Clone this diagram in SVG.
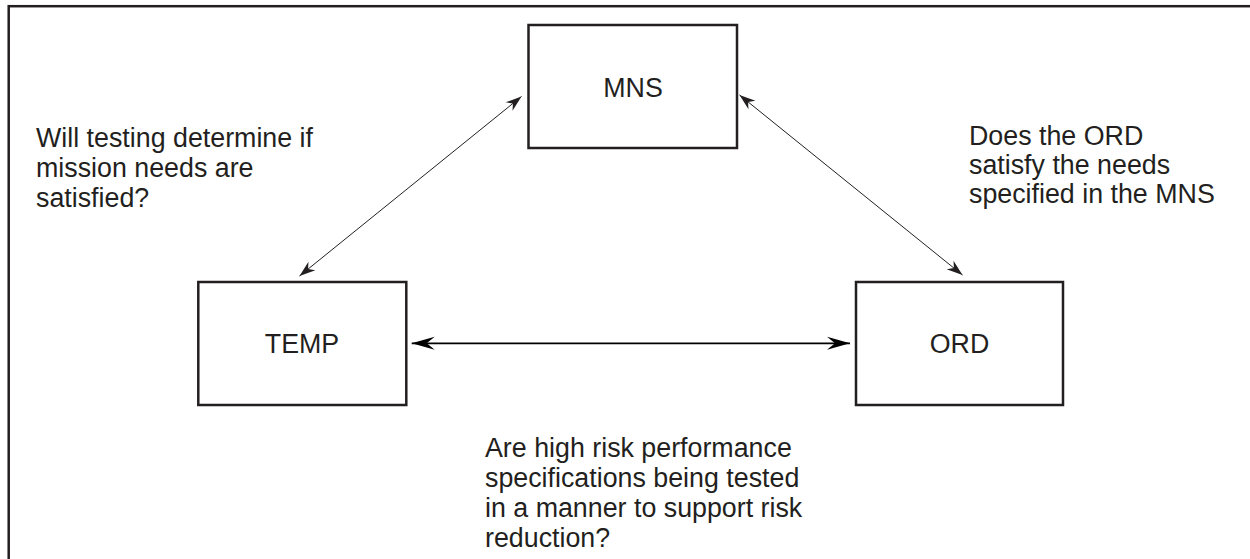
<svg xmlns="http://www.w3.org/2000/svg" width="1250" height="559" viewBox="0 0 1250 559">
<style>
.box{fill:#fff;stroke:#231f20;stroke-width:2.5}
.lbl{font-family:"Liberation Sans",Arial,sans-serif;font-size:26.8px;fill:#231f20}
.mid{text-anchor:middle}
.thin{stroke:#231f20;stroke-width:1;fill:none}
.thick{stroke:#000;stroke-width:1.8;fill:none}
</style>
<defs>
<marker id="ahS" markerUnits="userSpaceOnUse" markerWidth="20" markerHeight="14" viewBox="-17 -7 18 14" refX="0" refY="0" orient="auto-start-reverse">
<path d="M0,0 L-16,-5.5 L-11,0 L-16,5.5 Z" fill="#231f20"/>
</marker>
<marker id="ahL" markerUnits="userSpaceOnUse" markerWidth="26" markerHeight="16" viewBox="-24 -8 25 16" refX="0" refY="0" orient="auto-start-reverse">
<path d="M0,0 L-23,-6.5 L-15,0 L-23,6.5 Z" fill="#000"/>
</marker>
</defs>
<rect x="8.7" y="6.2" width="1260" height="570" fill="none" stroke="#231f20" stroke-width="2.5"/>
<g id="connectors">
<line class="thin" x1="299.5" y1="276" x2="521.5" y2="96.5" marker-start="url(#ahS)" marker-end="url(#ahS)"/>
<line class="thin" x1="739.5" y1="95" x2="962.5" y2="275" marker-start="url(#ahS)" marker-end="url(#ahS)"/>
<line class="thick" x1="411.7" y1="343.3" x2="850" y2="343.3" marker-start="url(#ahL)" marker-end="url(#ahL)"/>
</g>
<g id="MNS">
<rect class="box" x="528.5" y="25" width="208.5" height="123"/>
<text class="lbl mid" x="633" y="96.7">MNS</text>
</g>
<g id="TEMP">
<rect class="box" x="198.3" y="282" width="208" height="123"/>
<text class="lbl mid" x="302" y="352.7">TEMP</text>
</g>
<g id="ORD">
<rect class="box" x="856" y="282" width="207" height="123"/>
<text class="lbl mid" x="959.5" y="352.7">ORD</text>
</g>
<g id="note-left">
<text class="lbl" x="36" y="147.3">Will testing determine if</text>
<text class="lbl" x="36" y="177">mission needs are</text>
<text class="lbl" x="36" y="206.5">satisfied?</text>
</g>
<g id="note-right">
<text class="lbl" x="969" y="145">Does the ORD</text>
<text class="lbl" x="969" y="174">satisfy the needs</text>
<text class="lbl" x="969" y="203">specified in the MNS</text>
</g>
<g id="note-bottom">
<text class="lbl" x="485" y="457">Are high risk performance</text>
<text class="lbl" x="485" y="487">specifications being tested</text>
<text class="lbl" x="485" y="517">in a manner to support risk</text>
<text class="lbl" x="485" y="547">reduction?</text>
</g>
</svg>
